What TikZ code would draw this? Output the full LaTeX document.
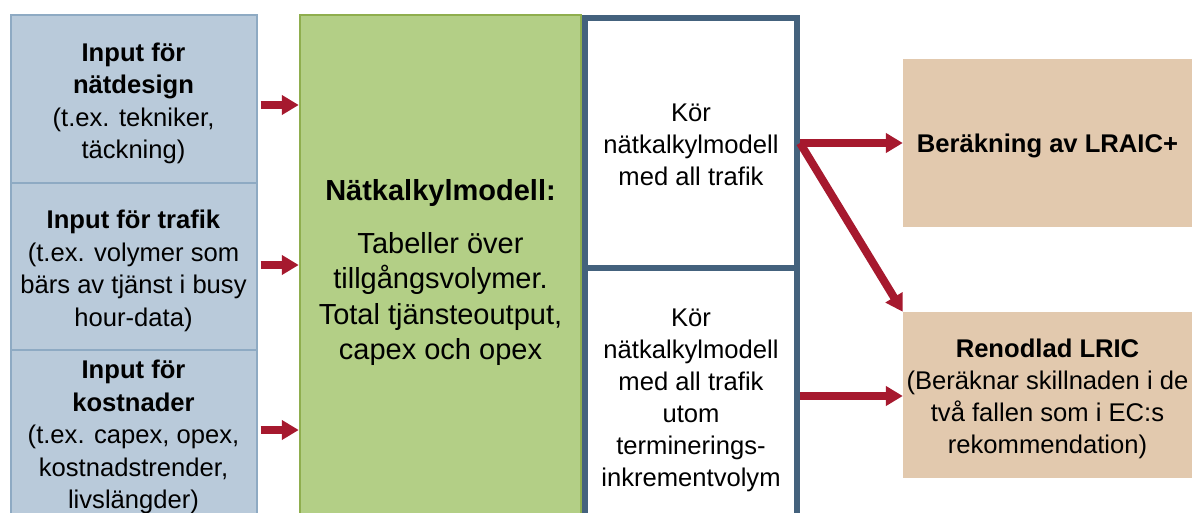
\documentclass[tikz,border=0pt]{standalone}
\usepackage{fontspec}
\setmainfont{Liberation Sans}
\usetikzlibrary{arrows.meta}
\definecolor{inblue}{HTML}{B9CADA}
\definecolor{inblueline}{HTML}{8EAAC3}
\definecolor{modgreen}{HTML}{B3CF86}
\definecolor{modgreenline}{HTML}{8FAE4E}
\definecolor{runframe}{HTML}{44627D}
\definecolor{outtan}{HTML}{E2C9AE}
\definecolor{flowred}{HTML}{A6192E}
\newcommand{\boxlift}[1]{\rule{0pt}{#1}}

\begin{document}
\begin{tikzpicture}[x=1pt,y=-1pt,
            inbox/.style={draw=inblueline,line width=2pt,fill=inblue,minimum width=246pt,align=center,
                font=\fontsize{25.6}{32.5}\selectfont,inner sep=0pt},
            modbox/.style={draw=modgreenline,line width=2.5pt,fill=modgreen,minimum width=281pt,
                minimum height=506pt,align=center,font=\fontsize{29}{35.5}\selectfont,inner sep=0pt},
            runbox/.style={draw=runframe,line width=6pt,fill=white,minimum width=212pt,align=center,
                font=\fontsize{25.6}{32}\selectfont,inner sep=0pt},
            outbox/.style={fill=outtan,minimum width=289pt,minimum height=167pt,align=center,
                font=\fontsize{25.6}{32}\selectfont,inner sep=0pt},
            flow/.style={draw=flowred,line width=8pt,-{Triangle[width=19pt,length=17pt]}}]
            \useasboundingbox (0,0) rectangle (1192,512);
            \clip (0,0) rectangle (1192,512);
            \node[inbox,minimum height=168pt] at (133.5,99) (design) {\boxlift{27pt}\textbf{Input för}\\\textbf{nätdesign}\\(t.ex. tekniker,\\täckning)};
            \node[inbox,minimum height=167pt] at (133.5,266.5) (traffic) {\boxlift{27pt}\textbf{Input för trafik}\\(t.ex. volymer som\\bärs av tjänst i busy\\hour-data)};
            \node[inbox,minimum height=166pt] at (133.5,433) (costs) {\boxlift{27pt}\textbf{Input för}\\\textbf{kostnader}\\(t.ex. capex, opex,\\kostnadstrender,\\livslängder)};
            \node[modbox] at (440.5,268) (model) {\boxlift{31pt}\textbf{Nätkalkylmodell:}\\[17pt]Tabeller över\\tillgångsvolymer.\\Total tjänsteoutput,\\capex och opex};
            \node[runbox,minimum height=250pt] at (691,143) (runall) {\boxlift{22pt}Kör\\nätkalkylmodell\\med all trafik};
            \node[runbox,minimum height=256pt] at (691,396) (runexcl) {\boxlift{27pt}Kör\\nätkalkylmodell\\med all trafik\\utom\\terminerings-\\inkrementvolym};
            \node[outbox,minimum height=168pt] at (1047.5,143) (lraic) {\boxlift{25pt}\textbf{Beräkning av LRAIC+}};
            \node[outbox,minimum height=166pt] at (1047.5,395) (lric) {\boxlift{27pt}\textbf{Renodlad LRIC}\\(Beräknar skillnaden i de\\två fallen som i EC:s\\rekommendation)};
            \draw[flow,shorten <=3pt] ([yshift=-6pt]design.east) to ([yshift=-6pt]design.east -| model.west);
            \draw[flow,shorten <=3pt] ([yshift=1.5pt]traffic.east) to ([yshift=1.5pt]traffic.east -| model.west);
            \draw[flow,shorten <=3pt] ([yshift=3pt]costs.east) to ([yshift=3pt]costs.east -| model.west);
            \draw[flow] (runall.east) to (lraic.west);
            \draw[flow] (runall.east) to (lric.north west);
            \draw[flow] (runexcl.east) to (runexcl.east -| lric.west);
        \end{tikzpicture}
\end{document}
